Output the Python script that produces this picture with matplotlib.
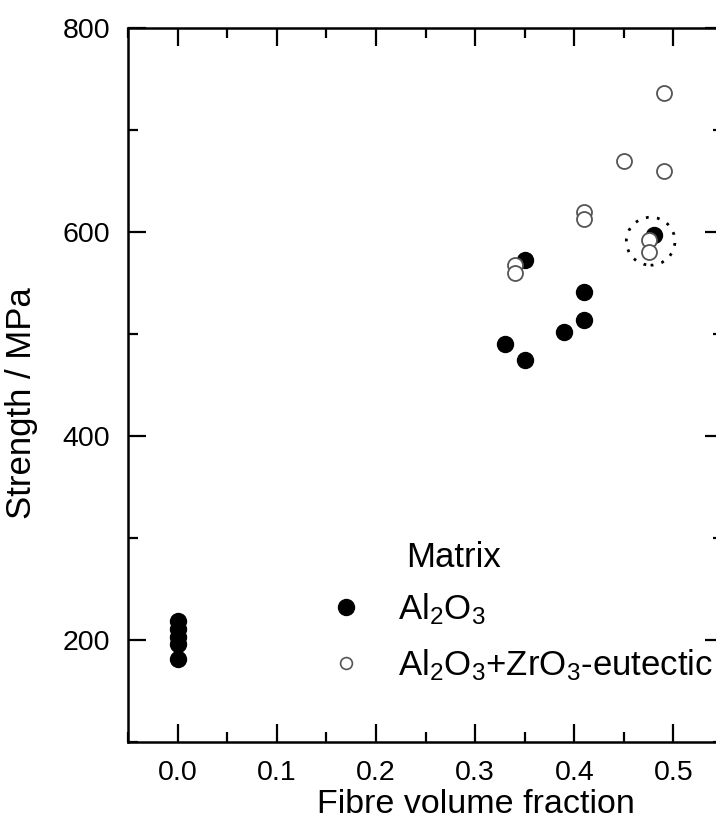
import matplotlib
matplotlib.use("Agg")
import matplotlib.pyplot as plt
from matplotlib.lines import Line2D
from matplotlib.patches import Ellipse

plt.rcParams["font.family"] = ["Liberation Sans", "DejaVu Sans"]
plt.rcParams["mathtext.fontset"] = "custom"
plt.rcParams["mathtext.rm"] = "Liberation Sans"
plt.rcParams["mathtext.default"] = "regular"

# ---------------
# Data
# ---------------
al2o3_x = [0.0, 0.0, 0.0, 0.0, 0.0, 0.33, 0.35, 0.35, 0.39, 0.41, 0.41, 0.48]
al2o3_y = [219, 211, 203, 196, 181, 490, 475, 573, 502, 514, 541, 597]

eutectic_x = [0.34, 0.34, 0.41, 0.41, 0.45, 0.475, 0.475, 0.49, 0.49]
eutectic_y = [568, 560, 620, 613, 670, 592, 580, 660, 736]

# highlighted group (dotted ring)
ring_center = (0.477, 591)
ring_size = (0.049, 47)

x_ticks = [0.0, 0.1, 0.2, 0.3, 0.4, 0.5]
y_ticks = [200, 400, 600, 800]

# ---------------
# Plot
# ---------------
fig = plt.figure(figsize=(7.16, 8.27), dpi=100)
ax = fig.add_axes([0.1788, 0.1028, 0.831, 0.8633])

ax.plot(al2o3_x, al2o3_y, "o", color="black", markersize=11.5, zorder=3)
ax.plot(eutectic_x, eutectic_y, "o", markerfacecolor="white", markeredgecolor="#555555",
        markeredgewidth=1.3, markersize=10.8, zorder=4)

ax.add_patch(Ellipse(ring_center, ring_size[0], ring_size[1], fill=False,
                     linestyle=(0, (1, 3)), linewidth=2, edgecolor="black", zorder=5))

ax.set_xlim(-0.05, 0.55)
ax.set_ylim(100, 800)
ax.set_xticks(x_ticks)
ax.set_xticklabels([f"{t:.1f}" for t in x_ticks])
ax.set_yticks(y_ticks)
ax.set_xticks([-0.05 + 0.1 * i for i in range(6)], minor=True)
ax.set_yticks([100, 300, 500, 700], minor=True)

ax.tick_params(which="both", direction="in", top=True, right=True, width=1.6,
               labelsize=20.5, pad=13)
ax.tick_params(which="major", length=13)
ax.tick_params(which="minor", length=7)
for s in ax.spines.values():
    s.set_linewidth(1.8)

ax.set_xlabel("Fibre volume fraction", fontsize=24.5)
ax.xaxis.set_label_coords(0.585, -0.066)
ax.set_ylabel("Strength / MPa", fontsize=25)
ax.yaxis.set_label_coords(-0.152, 0.475)

handles = [
    Line2D([], [], linestyle="none", marker="o", color="black", markersize=11.5),
    Line2D([], [], linestyle="none", marker="o", markerfacecolor="white",
           markeredgecolor="#555555", markeredgewidth=1.2, markersize=8.5),
]
labels = [r"Al$_2$O$_3$", r"Al$_2$O$_3$+ZrO$_3$-eutectic"]
ax.legend(handles, labels, loc="upper left", bbox_to_anchor=(0.313, 0.231),
          frameon=False, fontsize=25, handletextpad=1.0, labelspacing=0.59,
          borderaxespad=0, handlelength=1.0)
ax.text(0.467, 0.258, "Matrix", transform=ax.transAxes, fontsize=25, va="center")

plt.savefig("out.png", dpi=100)
plt.close()
